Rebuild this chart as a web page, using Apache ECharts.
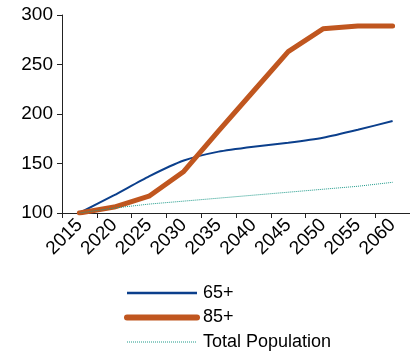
<!DOCTYPE html>
<html><head><meta charset="utf-8">
<script src="https://cdn.jsdelivr.net/npm/echarts@6/dist/echarts.min.js"></script>
<style>html,body{margin:0;padding:0;background:#fff}#c{width:410px;height:353px}</style>
</head><body><div id="c"></div>
<script>
const years = ['2015','2020','2025','2030','2035','2040','2045','2050','2055','2060'];
const s65 = [100, 118, 137, 153, 162, 167, 171, 176, 184, 193];
const s85 = [100, 106, 117, 142, 183, 223, 263, 286, 289, 289];
const sTot = [100, 105, 109, 112, 115, 118, 121, 124, 127, 131];
const yTicks = [100, 150, 200, 250, 300];

const chart = echarts.init(document.getElementById('c'));
const font = 'Liberation Sans, Arial, sans-serif';
const c65 = '#0B3F8C', c85 = '#C0561F', cTot = '#1F9A8A';
chart.setOption({
  animation: false,
  grid: {left: 62, top: 15, width: 350, height: 198, containLabel: false},
  legend: {
    orient: 'vertical', left: 124, top: 284, height: 80, itemWidth: 70, itemHeight: 14, itemGap: 6.5,
    padding: 0,
    itemStyle: {opacity: 0},
    textStyle: {fontFamily: font, fontSize: 18, lineHeight: 18, color: '#000', padding: [0, 0, 0, 1]},
    data: [
      {name: '65+', lineStyle: {width: 2.5, color: c65}},
      {name: '85+', lineStyle: {width: 6, color: c85, cap: 'round'}},
      {name: 'Total Population', lineStyle: {width: 1, color: cTot, type: 'dotted'}}
    ]
  },
  xAxis: {
    type: 'category', data: years, boundaryGap: true,
    axisLine: {lineStyle: {color: '#222', width: 1}},
    axisTick: {show: true, length: 5, alignWithLabel: false, lineStyle: {color: '#222'}},
    axisLabel: {rotate: 45, interval: 0, fontFamily: font, fontSize: 19, color: '#000', margin: 9}
  },
  yAxis: {
    type: 'value', min: yTicks[0], max: yTicks[yTicks.length-1], interval: 50,
    splitLine: {show: false},
    axisLine: {show: true, lineStyle: {color: '#222', width: 1}},
    axisTick: {show: true, length: 5, lineStyle: {color: '#222'}},
    axisLabel: {fontFamily: font, fontSize: 19, color: '#000', margin: 9}
  },
  series: [
    {name: '65+', type: 'line', data: s65, symbol: 'none', smooth: 0.2,
      lineStyle: {color: c65, width: 2}, itemStyle: {color: c65}},
    {name: '85+', type: 'line', data: s85, symbol: 'none',
      lineStyle: {color: c85, width: 5, cap: 'round', join: 'round'}, itemStyle: {color: c85}},
    {name: 'Total Population', type: 'line', data: sTot, symbol: 'none',
      lineStyle: {color: cTot, width: 1, type: 'dotted'}, itemStyle: {color: cTot}}
  ]
});
</script></body></html>
